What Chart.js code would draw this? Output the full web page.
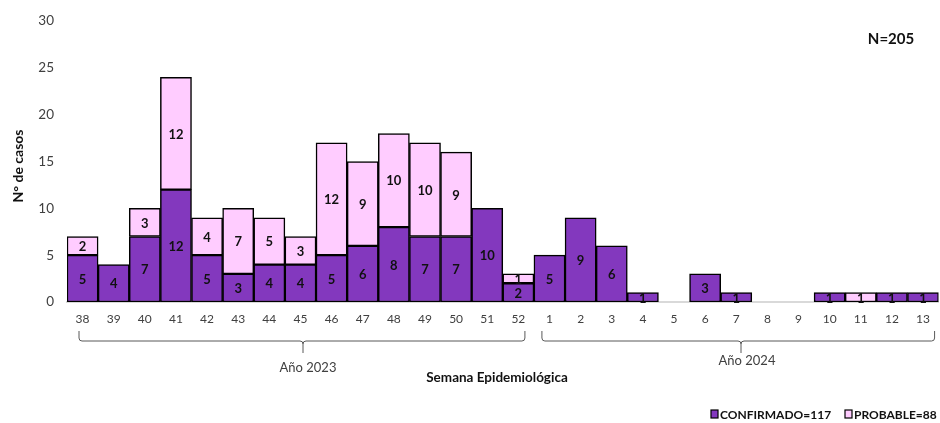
<!DOCTYPE html>
<html>
<head>
<meta charset="utf-8">
<script src="https://cdn.jsdelivr.net/npm/chart.js@4.4.1/dist/chart.umd.min.js"></script>
<style>
  html, body { margin: 0; padding: 0; background: #fff; }
  #wrap { width: 940px; height: 423px; }
</style>
</head>
<body>
<div id="wrap"><canvas id="casosChart" width="940" height="423"></canvas></div>
<script>
// semanas epidemiológicas (38-52 de 2023, 1-13 de 2024)
const semanas = ['38','39','40','41','42','43','44','45','46','47','48','49','50','51','52',
                 '1','2','3','4','5','6','7','8','9','10','11','12','13'];
const confirmados = [5,4,7,12,5,3,4,4,5,6,8,7,7,10,2, 5,9,6,1,0,3,1,0,0,1,0,1,1];
const probables   = [2,0,3,12,4,7,5,3,12,9,10,10,9,0,1, 0,0,0,0,0,0,0,0,0,0,1,0,0];
const ticksY = [0,5,10,15,20,25,30];

const FONT = 'Lato, "Open Sans", sans-serif';

// etiquetas dentro de cada barra
const etiquetasPlugin = {
    id: 'etiquetas',
    afterDatasetsDraw(chart) {
        const ctx = chart.ctx;
        ctx.save();
        ctx.font = 'bold 13px ' + FONT;
        ctx.fillStyle = '#111';
        ctx.textAlign = 'center';
        ctx.textBaseline = 'middle';
        chart.data.datasets.forEach((ds, i) => {
            const meta = chart.getDatasetMeta(i);
            meta.data.forEach((bar, j) => {
                const v = ds.data[j];
                if (!v) return;
                ctx.fillText(String(v), bar.x, (bar.y + bar.base) / 2 + 1);
            });
        });
        ctx.restore();
    }
};

// llaves de año, títulos y leyenda
const extrasPlugin = {
    id: 'extras',
    afterDraw(chart) {
        const ctx = chart.ctx;
        const x = chart.scales.x;
        ctx.save();

        // título eje Y
        ctx.fillStyle = '#111';
        ctx.font = 'bold 14px ' + FONT;
        ctx.textAlign = 'center';
        ctx.textBaseline = 'middle';
        ctx.translate(18, 166);
        ctx.rotate(-Math.PI / 2);
        ctx.fillText('N° de casos', 0, 0);
        ctx.setTransform(1, 0, 0, 1, 0, 0);

        // N total
        ctx.font = 'bold 15px ' + FONT;
        ctx.fillText('N=205', 891, 39);

        // llaves
        function llave(x1, x2, xm) {
            const top = 331, mid = 341, tip = 353, r = 3;
            ctx.beginPath();
            ctx.moveTo(x1, top);
            ctx.lineTo(x1, mid - r);
            ctx.quadraticCurveTo(x1, mid, x1 + r, mid);
            ctx.lineTo(xm - r, mid);
            ctx.quadraticCurveTo(xm, mid, xm, mid + r);
            ctx.lineTo(xm, tip);
            ctx.moveTo(xm, mid + r);
            ctx.quadraticCurveTo(xm, mid, xm + r, mid);
            ctx.lineTo(x2 - r, mid);
            ctx.quadraticCurveTo(x2, mid, x2, mid - r);
            ctx.lineTo(x2, top);
            ctx.stroke();
        }
        ctx.strokeStyle = '#595959';
        ctx.lineWidth = 1;
        const half = (x.getPixelForValue(1) - x.getPixelForValue(0)) / 2;
        const a1 = x.getPixelForValue(0) - half + 12, a2 = x.getPixelForValue(14) + half - 9;
        const b1 = x.getPixelForValue(15) - half + 8, b2 = x.getPixelForValue(27) + half - 4;
        llave(a1, a2, 303);
        llave(b1, b2, 741);

        ctx.fillStyle = '#404040';
        ctx.font = '13px ' + FONT;
        ctx.fillText('Año 2023', 308, 368);
        ctx.fillText('Año 2024', 747, 361);

        ctx.fillStyle = '#111';
        ctx.font = 'bold 13.5px ' + FONT;
        ctx.fillText('Semana Epidemiológica', 497, 378);

        // leyenda
        const ds = chart.data.datasets;
        const items = [[711, ds[0]], [845, ds[1]]];
        ctx.textAlign = 'left';
        ctx.font = 'bold 12px ' + FONT;
        items.forEach(([lx, d]) => {
            ctx.fillStyle = d.backgroundColor;
            ctx.fillRect(lx, 410, 7, 8);
            ctx.strokeStyle = '#000';
            ctx.lineWidth = 1.2;
            ctx.strokeRect(lx, 410, 7, 8);
            ctx.fillStyle = '#111';
            ctx.fillText(d.label, lx + 9, 415);
        });
        ctx.restore();
    }
};

const totalConf = confirmados.reduce((a, b) => a + b, 0);
const totalProb = probables.reduce((a, b) => a + b, 0);

new Chart(document.getElementById('casosChart'), {
    type: 'bar',
    data: {
        labels: semanas,
        datasets: [{
            label: 'CONFIRMADO=' + totalConf,
            data: confirmados.map(v => v || null),
            backgroundColor: '#8338BE',
            borderColor: '#000',
            borderWidth: 1.5,
            borderSkipped: false
        }, {
            label: 'PROBABLE=' + totalProb,
            data: probables.map(v => v || null),
            backgroundColor: '#FFCCFF',
            borderColor: '#000',
            borderWidth: 1.5,
            borderSkipped: false
        }]
    },
    options: {
        responsive: false,
        animation: false,
        layout: { padding: { top: 20, right: 1, left: 0, bottom: 0 } },
        datasets: { bar: { barPercentage: 1, categoryPercentage: 1 } },
        plugins: { legend: { display: false }, tooltip: { enabled: false } },
        scales: {
            x: {
                stacked: true,
                grid: { display: false, drawTicks: false },
                border: { display: true, color: '#d9d9d9', width: 2 },
                ticks: { color: '#404040', font: { family: FONT, size: 12 }, padding: 10, maxRotation: 0, autoSkip: false },
                afterFit: s => { s.height = 121; }
            },
            y: {
                stacked: true,
                min: 0,
                max: 30,
                afterBuildTicks: s => { s.ticks = ticksY.map(v => ({ value: v })); },
                grid: { display: false, drawTicks: false },
                border: { display: false },
                ticks: { color: '#404040', font: { family: FONT, size: 13.5 }, padding: 13 },
                afterFit: s => { s.width = 67; }
            }
        }
    },
    plugins: [etiquetasPlugin, extrasPlugin]
});
</script>
</body>
</html>
